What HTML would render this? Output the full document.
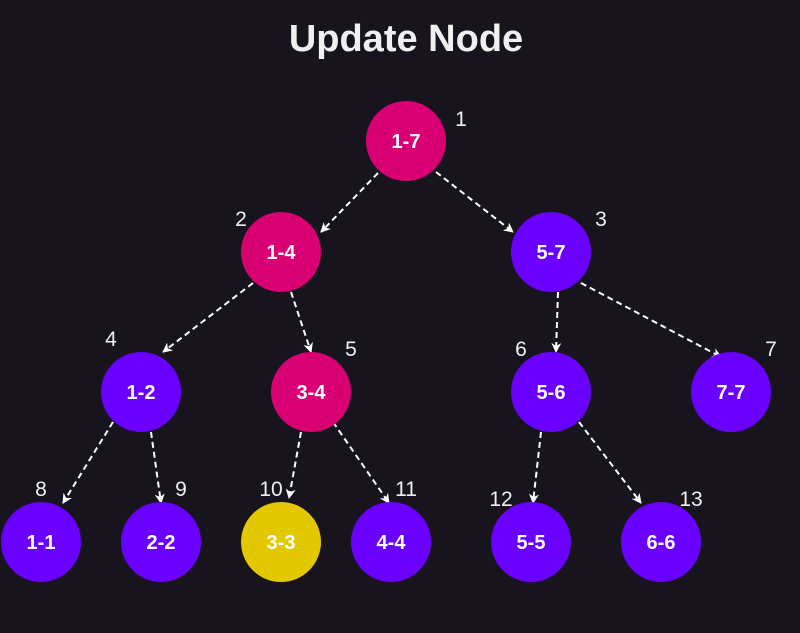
<!DOCTYPE html>
<html><head><meta charset="utf-8"><style>
html,body{margin:0;padding:0;background:#18141d;}
svg{display:block;font-family:"Liberation Sans",sans-serif;}
</style></head><body>
<svg width="800" height="633" viewBox="0 0 800 633" xmlns="http://www.w3.org/2000/svg">
<defs><marker id="a" markerWidth="10" markerHeight="10" refX="9" refY="5" orient="auto" markerUnits="userSpaceOnUse"><path d="M0,0 L10,5 L0,10 L3,5 Z" fill="#fff"/></marker></defs>
<rect width="800" height="633" fill="#18141d"/>
<text x="406" y="51" text-anchor="middle" font-size="38" font-weight="bold" fill="#f0f0f0">Update Node</text>
<g stroke="#fff" stroke-width="2" stroke-dasharray="6,4" fill="none" marker-end="url(#a)">
<line x1="378" y1="173" x2="321" y2="232"/>
<line x1="436" y1="172" x2="513" y2="232"/>
<line x1="253" y1="283" x2="163" y2="352"/>
<line x1="291" y1="292" x2="311" y2="352"/>
<line x1="558" y1="292" x2="556" y2="352"/>
<line x1="581" y1="283" x2="721" y2="357"/>
<line x1="113" y1="422" x2="63" y2="503"/>
<line x1="151" y1="432" x2="161" y2="503"/>
<line x1="301" y1="432" x2="289" y2="498"/>
<line x1="333" y1="422" x2="389" y2="503"/>
<line x1="541" y1="432" x2="533" y2="503"/>
<line x1="579" y1="422" x2="641" y2="503"/>
</g>
<g font-size="20" font-weight="bold" fill="#fff" text-anchor="middle">
<circle cx="406" cy="141" r="40" fill="#d80073"/><text x="406" y="148">1-7</text>
<circle cx="281" cy="252" r="40" fill="#d80073"/><text x="281" y="259">1-4</text>
<circle cx="551" cy="252" r="40" fill="#6a00ff"/><text x="551" y="259">5-7</text>
<circle cx="141" cy="392" r="40" fill="#6a00ff"/><text x="141" y="399">1-2</text>
<circle cx="311" cy="392" r="40" fill="#d80073"/><text x="311" y="399">3-4</text>
<circle cx="551" cy="392" r="40" fill="#6a00ff"/><text x="551" y="399">5-6</text>
<circle cx="731" cy="392" r="40" fill="#6a00ff"/><text x="731" y="399">7-7</text>
<circle cx="41" cy="542" r="40" fill="#6a00ff"/><text x="41" y="549">1-1</text>
<circle cx="161" cy="542" r="40" fill="#6a00ff"/><text x="161" y="549">2-2</text>
<circle cx="281" cy="542" r="40" fill="#e3c800"/><text x="281" y="549">3-3</text>
<circle cx="391" cy="542" r="40" fill="#6a00ff"/><text x="391" y="549">4-4</text>
<circle cx="531" cy="542" r="40" fill="#6a00ff"/><text x="531" y="549">5-5</text>
<circle cx="661" cy="542" r="40" fill="#6a00ff"/><text x="661" y="549">6-6</text>
</g>
<g font-size="21" fill="#f0f0f0" text-anchor="middle">
<text x="461" y="126">1</text><text x="241" y="226">2</text><text x="601" y="226">3</text>
<text x="111" y="346">4</text><text x="351" y="356">5</text><text x="521" y="356">6</text><text x="771" y="356">7</text>
<text x="41" y="496">8</text><text x="181" y="496">9</text><text x="271" y="496">10</text><text x="406" y="496">11</text>
<text x="501" y="506">12</text><text x="691" y="506">13</text>
</g>
</svg>
</body></html>
